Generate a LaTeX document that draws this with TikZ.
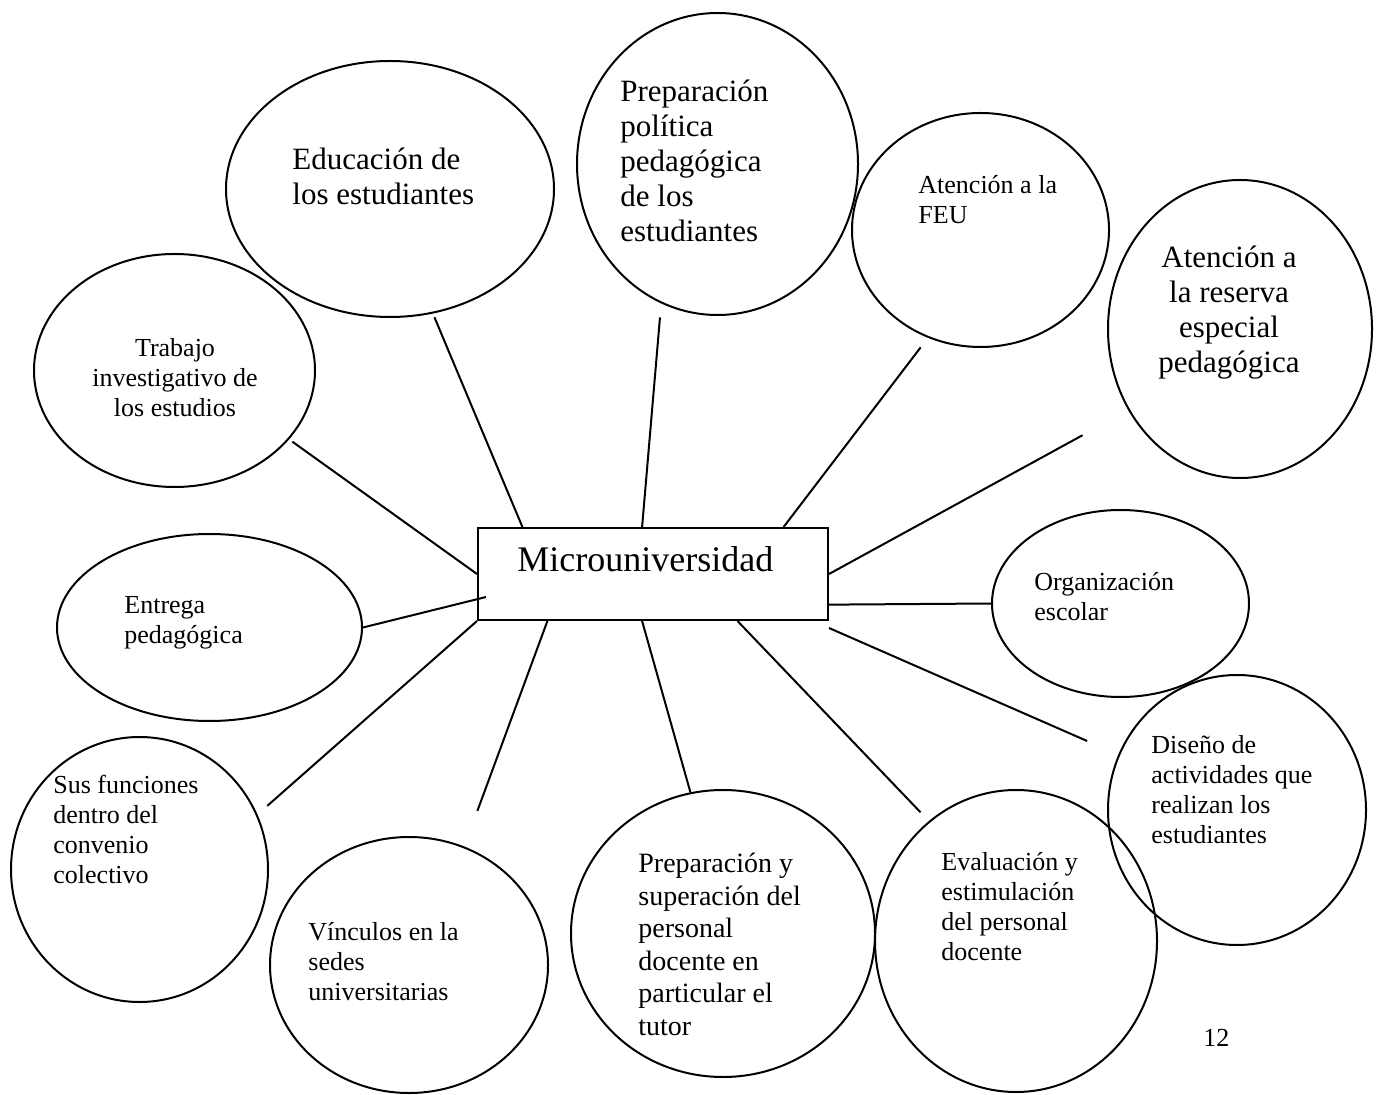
\documentclass[tikz,border=0pt]{standalone}
\usepackage{fontspec}
\setmainfont{Liberation Serif}
\usetikzlibrary{shapes.geometric,calc}

\tikzset{
  bubble/.style={draw, ellipse, inner sep=0pt, line width=1pt},
  link/.style={line width=1pt},
  small/.style={inner sep=0pt, align=left, anchor=base west, font=\fontsize{13}{15}\selectfont},
  large/.style={inner sep=0pt, align=left, anchor=base west, font=\fontsize{15.5}{17.5}\selectfont},
}

\begin{document}
\begin{tikzpicture}[x=0.5pt, y=-0.5pt]
    \useasboundingbox (0,0) rectangle (1380,1095);
    % central box
    \node[draw, line width=1pt, minimum width=175pt, minimum height=46pt, inner sep=0pt] (micro) at (653,574) {};
    \node[inner sep=0pt, anchor=base west, font=\fontsize{18}{21}\selectfont] (micro-t) at (517,572) {Microuniversidad};
    % ellipses (minimum width/height in pt = radius in px)
    \node[bubble, minimum width=164pt, minimum height=128pt] (educ) at (390,189) {};
    \node[bubble, minimum width=140.5pt, minimum height=151pt] (polit) at (717.5,164) {};
    \node[bubble, minimum width=128.5pt, minimum height=117pt] (feu) at (980.5,230) {};
    \node[bubble, minimum width=132pt, minimum height=149pt] (reserva) at (1240,329) {};
    \node[bubble, minimum width=140.5pt, minimum height=116.5pt] (trab) at (174.5,370.5) {};
    \node[bubble, minimum width=152.5pt, minimum height=93.5pt] (entrega) at (209.5,627.5) {};
    \node[bubble, minimum width=128.5pt, minimum height=93.5pt] (org) at (1120.5,603.5) {};
    \node[bubble, minimum width=129pt, minimum height=135pt] (diseno) at (1237,810) {};
    \node[bubble, minimum width=128.5pt, minimum height=132.5pt] (funciones) at (139.5,869.5) {};
    \node[bubble, minimum width=139pt, minimum height=128pt] (vinculos) at (409,965) {};
    \node[bubble, minimum width=152pt, minimum height=143.5pt] (prepsup) at (723,933.5) {};
    \node[bubble, minimum width=141pt, minimum height=151pt] (evalua) at (1016,941) {};
    % texts (placed at the baseline of their last line)
    \node[large] (educ-t) at (292,205) {Educación de\\los estudiantes};
    \node[large] (polit-t) at (620,242) {Preparación\\política\\pedagógica\\de los\\estudiantes};
    \node[large, align=center, anchor=base] (reserva-t) at (1229,373) {Atención a\\la reserva\\especial\\pedagógica};
    \node[small] (feu-t) at (918,224) {Atención a la\\FEU};
    \node[small, align=center, anchor=base] (trab-t) at (175,417) {Trabajo\\investigativo de\\los estudios};
    \node[small] (entrega-t) at (124,643) {Entrega\\pedagógica};
    \node[small] (org-t) at (1034,620) {Organización\\escolar};
    \node[small] (diseno-t) at (1151,843) {Diseño de\\actividades que\\realizan los\\estudiantes};
    \node[small] (funciones-t) at (53,883) {Sus funciones\\dentro del\\convenio\\colectivo};
    \node[small] (vinculos-t) at (308,1000) {Vínculos en la\\sedes\\universitarias};
    \node[small, font=\fontsize{14}{16.25}\selectfont] (prepsup-t) at (638,1035) {Preparación y\\superación del\\personal\\docente en\\particular el\\tutor};
    \node[small] (evalua-t) at (941,960) {Evaluación y\\estimulación\\del personal\\docente};
    \node[small] (pagina) at (1203,1046) {12};
    % connectors
    \draw[link, shorten <=2pt] (educ.-71.8) -- ($(micro.north west)!0.129!(micro.north east)$);
    \draw[link, shorten <=7pt] (polit.-112) -- ($(micro.north west)!0.469!(micro.north east)$);
    \draw[link, shorten <=6pt] (feu.-116.6) -- ($(micro.north west)!0.871!(micro.north east)$);
    \draw[link, shorten <=26pt] (reserva.-144) -- (micro.east);
    \draw[link, shorten <=2pt] (trab.-31) -- (micro.west);
    \draw[link] (entrega.east) -- ($(micro.west)+(9,23)$);
    \draw[link] (org.west) -- ($(micro.north east)!0.826!(micro.south east)$);
    \draw[link, shorten <=17pt] (diseno.155.9) -- ($(micro.south east)+(0,7)$);
    \draw[link, shorten <=6.5pt] (funciones.25.6) -- (micro.south west);
    \draw[link, shorten <=19pt] (vinculos.65.3) -- ($(micro.south west)!0.2!(micro.south east)$);
    \draw[link] (prepsup.103.1) -- ($(micro.south west)!0.469!(micro.south east)$);
    \draw[link, shorten <=6pt] (evalua.126.3) -- ($(micro.south west)!0.74!(micro.south east)$);
\end{tikzpicture}
\end{document}
